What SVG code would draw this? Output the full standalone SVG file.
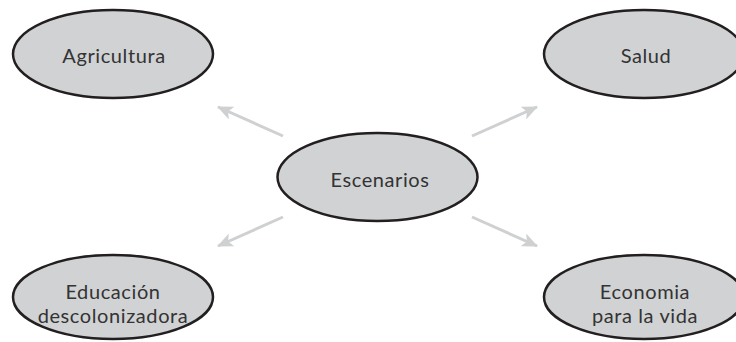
<svg xmlns="http://www.w3.org/2000/svg" width="736" height="342" viewBox="0 0 736 342">
<defs>
<marker id="ah" viewBox="0 0 16 14" refX="15" refY="7" markerWidth="16" markerHeight="14" markerUnits="userSpaceOnUse" orient="auto">
<path d="M0,0 L16,7 L0,14 L4,7 Z" fill="#cfd0d2"/>
</marker>
<style>
.n ellipse{fill:#d1d2d4;stroke:#231f20;stroke-width:2.5}
.n text{font-family:Lato,"Open Sans","Liberation Sans",sans-serif;font-size:20px;letter-spacing:0.6px;fill:#333;text-anchor:middle}
.c line{stroke:#cfd0d2;stroke-width:3;marker-end:url(#ah)}
</style>
</defs>
<rect width="736" height="342" fill="#fff"/>
<g class="c" id="connectors">
<line x1="283" y1="136" x2="218" y2="107"/>
<line x1="472" y1="136" x2="537" y2="107"/>
<line x1="283" y1="217" x2="218" y2="246"/>
<line x1="472" y1="217" x2="537" y2="246"/>
</g>
<g class="n" id="agricultura"><ellipse cx="113" cy="54" rx="100" ry="44"/><text x="114" y="63">Agricultura</text></g>
<g class="n" id="salud"><ellipse cx="644" cy="54" rx="100" ry="44"/><text x="646" y="63">Salud</text></g>
<g class="n" id="escenarios"><ellipse cx="377.5" cy="177" rx="100" ry="44"/><text x="380" y="187">Escenarios</text></g>
<g class="n" id="educacion"><ellipse cx="113" cy="297" rx="100" ry="42"/><text x="113" y="299">Educación</text><text x="113" y="323">descolonizadora</text></g>
<g class="n" id="economia"><ellipse cx="644" cy="297" rx="100" ry="42"/><text x="645" y="299">Economia</text><text x="645" y="323">para la vida</text></g>
</svg>
